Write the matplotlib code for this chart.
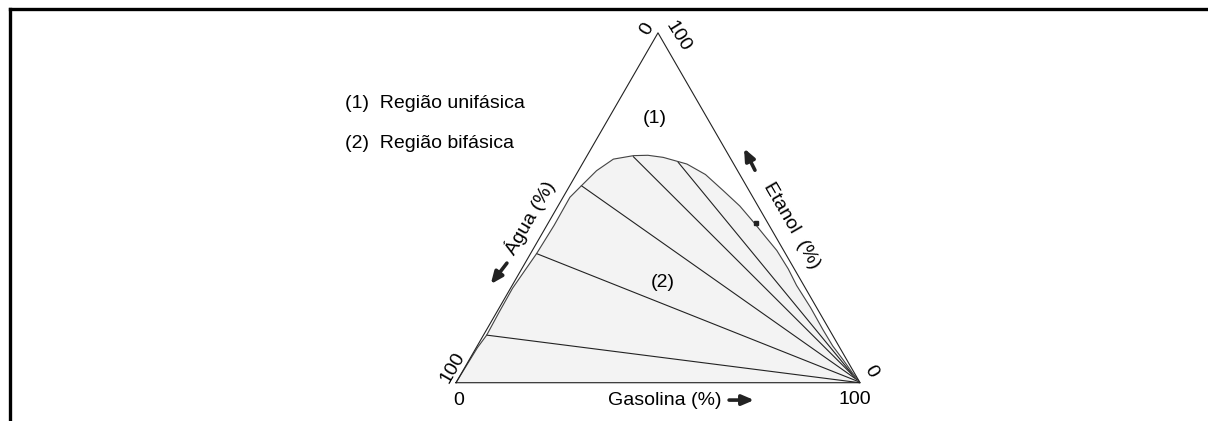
"""
Ternary phase diagram: agua / etanol / gasolina
Binodal curve with tie lines, single-phase (1) and two-phase (2) regions
"""

import numpy as np
import matplotlib.pyplot as plt
from matplotlib.lines import Line2D

plt.rcParams['font.family'] = ['Liberation Sans', 'DejaVu Sans']

# Binodal curve: (gasolina %, etanol %), agua = rest
curve_gas = [0.0, 0.3, 0.8, 0.6, 0.5, 1.0, 1.5, 1.8, 1.7, 2.9, 4.5, 7.0, 11.5,
             15.0, 19.1, 25.9, 32.0, 38.7, 45.0, 50.7, 56.0, 60.5, 66.0, 70.4,
             77.0, 83.4, 88.0, 92.6, 96.5, 100.0]
curve_eta = [0.0, 10.0, 13.6, 20.0, 27.0, 32.0, 36.9, 45.0, 53.0, 56.3, 60.6,
             63.9, 64.9, 65.0, 64.4, 62.5, 59.5, 54.9, 50.5, 45.9, 41.5, 37.8,
             32.5, 27.8, 21.5, 15.0, 10.5, 6.5, 3.0, 0.0]

# Tie lines: water-rich end and gasoline-rich end (gasolina %, etanol %)
tie_left_gas = [0.8, 1.5, 2.9, 11.6, 23.5]
tie_left_eta = [13.6, 36.9, 56.3, 64.6, 63.0]
tie_right_gas = [99.9, 99.5, 98.9, 98.0, 96.8]
tie_right_eta = [0.0, 0.3, 0.8, 1.5, 2.5]

# Plait point
plait_gas = [51.4]
plait_eta = [45.6]

FILL = '#f3f3f3'
LINE = '#222222'
ARROW = dict(arrowstyle='-|>,head_length=0.7,head_width=0.3',
             color='#222222', lw=2.6, shrinkA=0, shrinkB=0)


def tern(gas, eta):
    """(gasolina, etanol) in % -> cartesian, 100 units per side"""
    gas = np.asarray(gas, dtype=float)
    eta = np.asarray(eta, dtype=float)
    return gas + eta / 2.0, eta * np.sqrt(3) / 2.0


fig = plt.figure(figsize=(12.08, 4.21), dpi=100)
ax = fig.add_axes([0, 0, 1, 1])
ax.set_xlim(-112.87, 186.14)
ax.set_ylim(-9.48, 94.73)
ax.axis('off')

# Two-phase region
cx, cy = tern(curve_gas, curve_eta)
ax.fill(cx, cy, color=FILL, zorder=1)
ax.plot(cx, cy, color='#444444', lw=0.8, zorder=3)

# Tie lines
lx, ly = tern(tie_left_gas, tie_left_eta)
rx, ry = tern(tie_right_gas, tie_right_eta)
for x0, y0, x1, y1 in zip(lx, ly, rx, ry):
    ax.plot([x0, x1], [y0, y1], color=LINE, lw=0.8, zorder=2)

px, py = tern(plait_gas, plait_eta)
ax.plot(px, py, 's', color='#222222', ms=3, zorder=4)

# Triangle
vx, vy = tern([0, 100, 0, 0], [0, 0, 100, 0])
ax.plot(vx, vy, color=LINE, lw=0.8, zorder=5)

fs = 14
# Vertex labels
ax.text(0.7, -4.3, '0', ha='center', va='center', fontsize=fs)
ax.text(98.8, -4.1, '100', ha='center', va='center', fontsize=fs)
ax.text(-0.8, 3.8, '100', ha='center', va='center', fontsize=fs, rotation=60)
ax.text(102.8, 2.9, '0', ha='center', va='center', fontsize=fs, rotation=-60)
ax.text(47.4, 87.6, '0', ha='center', va='center', fontsize=fs, rotation=60)
ax.text(55.0, 85.8, '100', ha='center', va='center', fontsize=fs, rotation=-58)

# Axis titles with arrows
ax.text(51.7, -4.3, 'Gasolina (%)', ha='center', va='center', fontsize=fs)
ax.annotate('', xy=(73.8, -4.3), xytext=(67.6, -4.3), arrowprops=ARROW)
ax.text(18.3, 41.0, 'Água (%)', ha='center', va='center', fontsize=fs,
        rotation=60)
ax.annotate('', xy=(8.6, 24.4), xytext=(12.6, 29.6), arrowprops=ARROW)
ax.text(83.1, 39.0, 'Etanol  (%)', ha='center', va='center', fontsize=fs,
        rotation=-60)
ax.annotate('', xy=(71.3, 58.0), xytext=(74.0, 52.6), arrowprops=ARROW)

# Region labels
ax.text(49.3, 65.5, '(1)', ha='center', va='center', fontsize=fs)
ax.text(51.2, 24.7, '(2)', ha='center', va='center', fontsize=fs)
ax.text(-27.5, 69.2, '(1)  Região unifásica', ha='left', va='center',
        fontsize=fs)
ax.text(-27.5, 59.1, '(2)  Região bifásica', ha='left', va='center',
        fontsize=fs)

# Frame (top and left border)
fig.add_artist(Line2D([9.5 / 1208, 1.0], [1 - 8.5 / 421] * 2,
                      transform=fig.transFigure, color='black', lw=2.4))
fig.add_artist(Line2D([9.5 / 1208] * 2, [0.0, 1 - 8.5 / 421],
                      transform=fig.transFigure, color='black', lw=2.4))

plt.savefig('out.png', dpi=100)
plt.close()
